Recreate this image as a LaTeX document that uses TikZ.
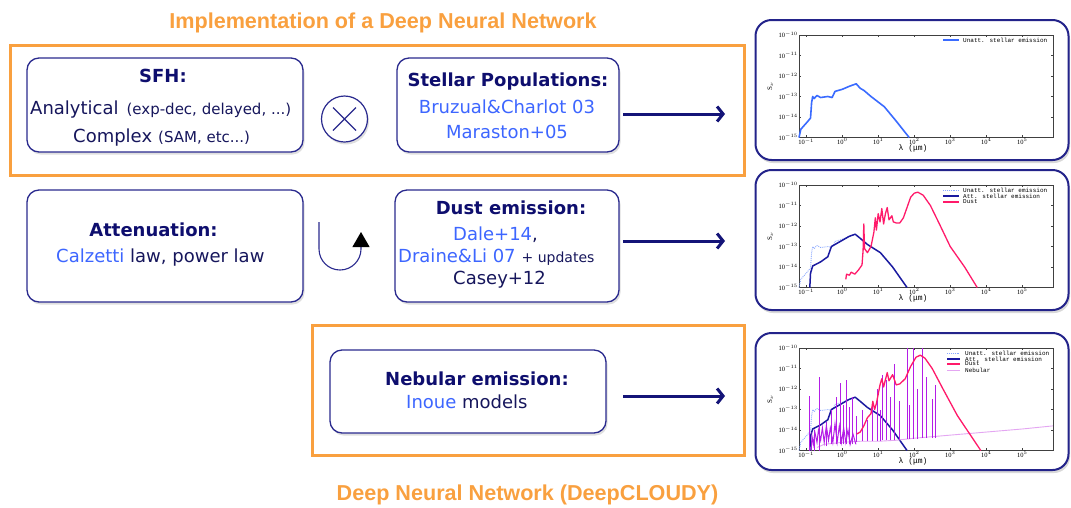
\documentclass[tikz,border=0pt]{standalone}
\usepackage{fontspec}
\setmainfont{DejaVu Sans}
\newfontfamily\arialbf{Liberation Sans}
\newfontfamily\plotmono{Liberation Mono}
\newfontfamily\plotserif{Liberation Serif}
\usetikzlibrary{arrows.meta,shadows}
\definecolor{orng}{HTML}{F9A03F}
\definecolor{boxnavy}{HTML}{2A2A8E}
\definecolor{plotnavy}{HTML}{23238A}
\definecolor{titlenavy}{HTML}{0E0E6E}
\definecolor{textnavy}{HTML}{16165C}
\definecolor{bluetxt}{HTML}{3D66FF}
\definecolor{arrnavy}{HTML}{141478}
\definecolor{unattc}{HTML}{3A6BFF}
\definecolor{unattl}{HTML}{8AA8FF}
\definecolor{attc}{HTML}{1A1AA0}
\definecolor{dustc}{HTML}{FF1A6A}
\definecolor{nebc}{HTML}{B41EE6}
\definecolor{nebl}{HTML}{E4A6F2}
\newcommand\tkfont{\fontsize{6.5}{7}\selectfont\plotserif}
\newcommand\lgfont{\fontsize{6}{6}\selectfont\plotmono}
\newcommand\myframe{%
  \draw[line width=0.4pt, black!75] (-1.2,-15) rectangle (5.85,-10);
  \foreach \L in {-1,...,5} {
    \draw[line width=0.3pt, black!75] (\L,-15) -- ++(0,0.12) (\L,-10) -- ++(0,-0.12);
    \node[font=\tkfont, below, inner sep=1pt] (xt\L) at (\L,-15) {10$^{\L}$};
  }
  \foreach \S in {10,...,15} {
    \draw[line width=0.3pt, black!75] (-1.2,-\S) -- ++(0.06,0) (5.85,-\S) -- ++(-0.06,0);
    \node[font=\tkfont, left, inner sep=1pt] (yt\S) at (-1.2,-\S) {10$^{-\S}$};
  }
  \node[font=\fontsize{8}{8}\selectfont\plotmono] (xl) at (1.97,-15.55) {λ (μm)};
  \node[font=\fontsize{7}{7}\selectfont\plotserif, rotate=90] (yl) at (-2.0,-12.5) {S$_\nu$};
}
\begin{document}
\begin{tikzpicture}[x=1pt,y=-1pt,
  box/.style={draw=boxnavy, line width=1.3pt, rounded corners=12pt, fill=white,
    drop shadow={shadow xshift=1.5pt,shadow yshift=-2.5pt,opacity=0.25}},
  plotbox/.style={draw=plotnavy, line width=2pt, rounded corners=16pt, fill=white,
    drop shadow={shadow xshift=1.5pt,shadow yshift=-3pt,opacity=0.3}},
  orangebox/.style={draw=orng, line width=3pt},
  ttl/.style={font=\fontsize{21.6}{24}\selectfont\arialbf\bfseries, text=orng, anchor=base, inner sep=0pt},
  hd/.style={font=\fontsize{18}{20}\selectfont\bfseries, text=titlenavy, anchor=base, inner sep=0pt},
  txt/.style={font=\fontsize{18}{20}\selectfont, text=textnavy, anchor=base, inner sep=0pt},
  arr/.style={draw=arrnavy, line width=3pt, -{Straight Barb[length=6pt,width=15pt]}},
  unatt/.style={draw=unattc, line width=1.6pt, line join=round},
  unattd/.style={draw=unattl, line width=0.9pt, densely dotted, line join=round},
  att/.style={draw=attc, line width=1.5pt, line join=round},
  dust/.style={draw=dustc, line width=1.3pt, line join=round},
  neb/.style={draw=nebc, line width=0.8pt},
  nebcont/.style={draw=nebl, line width=0.9pt},
]
\useasboundingbox (0,0) rectangle (1071,507);

% titles
\node[ttl] (title) at (383,28) {Implementation of a Deep Neural Network};
\node[ttl] (dnn) at (527.5,500) {Deep Neural Network (DeepCLOUDY)};

% orange frames
\draw[orangebox] (10,45) rectangle (744,175);
\draw[orangebox] (312,325) rectangle (744,455);

% main boxes
\node[box, minimum width=276pt, minimum height=94pt] (sfh) at (165,105) {};
\node[box, minimum width=222pt, minimum height=94pt] (pop) at (508,105) {};
\node[box, minimum width=276pt, minimum height=112pt] (att) at (165,246) {};
\node[box, minimum width=224pt, minimum height=112pt] (dust) at (507,246) {};
\node[box, minimum width=276pt, minimum height=83pt] (neb) at (468,391.5) {};

% SFH text
\node[hd] (sfhT) at (163,82) {SFH:};
\node[txt, anchor=base west] (sfhA) at (30,114) {Analytical\hspace{8pt}{\fontsize{15}{16}\selectfont (exp-dec, delayed, ...)}};
\node[txt, anchor=base west] (sfhC) at (73,142) {Complex\hspace{6pt}{\fontsize{15}{16}\selectfont (SAM, etc...)}};

% otimes
\node[circle, draw=boxnavy, line width=1.2pt, minimum size=46pt, fill=white,
  drop shadow={shadow xshift=1.5pt,shadow yshift=-2.5pt,opacity=0.25}] (otimes) at (344.5,119) {};
\draw[boxnavy, line width=1.2pt] ([shift={(-11.5pt,11.5pt)}]otimes.center) -- ([shift={(11.5pt,-11.5pt)}]otimes.center)
  ([shift={(-11.5pt,-11.5pt)}]otimes.center) -- ([shift={(11.5pt,11.5pt)}]otimes.center);

% Stellar populations text
\node[hd] (popT) at (508,86) {Stellar Populations:};
\node[txt, text=bluetxt] (popB) at (507,113) {Bruzual\&Charlot 03};
\node[txt, text=bluetxt] (popM) at (507,138) {Maraston+05};

% Attenuation text
\node[hd] (attT) at (153.5,236) {Attenuation:};
\node[txt, anchor=base west] (attL) at (56,262) {\textcolor{bluetxt}{Calzetti} law, power law};

% U-turn arrow
\coordinate (ua) at (319,222);
\coordinate (ub) at (361,232);
\draw[boxnavy, line width=1.1pt, -{Triangle[length=15pt,width=17pt,color=black]}]
  (ua) -- (319,249) arc[start angle=180, end angle=360, radius=21pt] -- (ub);

% Dust text
\node[hd] (dustT) at (511,214) {Dust emission:};
\node[txt, anchor=base west] (dustD) at (453,240) {\textcolor{bluetxt}{Dale+14},};
\node[txt, anchor=base west] (dustL) at (398,262) {\textcolor{bluetxt}{Draine\&Li 07}\hspace{6pt}{\fontsize{14}{16}\selectfont + updates}};
\node[txt, anchor=base west] (dustC) at (453,284) {Casey+12};

% Nebular text
\node[hd, anchor=base west] (nebT) at (385,385) {Nebular emission:};
\node[txt, anchor=base west] (nebI) at (406,408) {\textcolor{bluetxt}{Inoue} models};

% plot boxes
\node[plotbox, minimum width=313pt, minimum height=140pt] (p1) at (912,90) {};
\node[plotbox, minimum width=313pt, minimum height=140pt] (p2) at (912,240) {};
\node[plotbox, minimum width=313pt, minimum height=137pt] (p3) at (912,401.5) {};

% arrows
\coordinate (a1s) at (623,114); \coordinate (a1e) at (725,114);
\coordinate (a2s) at (623,241); \coordinate (a2e) at (725,241);
\coordinate (a3s) at (623,396); \coordinate (a3e) at (725,396);
\draw[arr] (a1s) -- (a1e);
\draw[arr] (a2s) -- (a2e);
\draw[arr] (a3s) -- (a3e);

% ---------- plot 1
\begin{scope}[shift={(842.2pt,170pt)}, x=36pt, y=20.5pt]
\myframe
\draw[unatt] (-1.2,-15) -- (-1.15,-14.6) -- (-1.05,-14.4) -- (-0.95,-14.2) -- (-0.88,-14.05) -- (-0.85,-13.3) -- (-0.82,-13.0) -- (-0.78,-13.1) -- (-0.7,-12.95) -- (-0.6,-13.05) -- (-0.4,-13.0) -- (-0.28,-13.05) -- (-0.2,-12.75) -- (0,-12.65) -- (0.2,-12.5) -- (0.39,-12.38) -- (0.5,-12.6) -- (0.6,-12.7) -- (0.8,-13.0) -- (1.17,-13.5) -- (1.5,-14.2) -- (1.86,-15);
\end{scope}
\draw[unatt] (943,40) -- (959,40);
\node[font=\lgfont, anchor=west, inner sep=0pt] (lg1) at (963,40) {Unatt. stellar emission};

% ---------- plot 2
\begin{scope}[shift={(842.2pt,20pt)}, x=36pt, y=20.5pt]
\myframe
\draw[unattd] (-1.2,-15) -- (-1.15,-14.6) -- (-1.05,-14.4) -- (-0.95,-14.2) -- (-0.88,-14.05) -- (-0.85,-13.3) -- (-0.82,-13.0) -- (-0.78,-13.1) -- (-0.7,-12.95) -- (-0.6,-13.05) -- (-0.4,-13.0) -- (-0.28,-13.05) -- (-0.2,-12.75) -- (0,-12.65) -- (0.2,-12.5) -- (0.39,-12.38);
\draw[att] (-0.9,-15) -- (-0.88,-14.3) -- (-0.82,-13.95) -- (-0.6,-13.75) -- (-0.4,-13.5) -- (-0.3,-13.0) -- (-0.05,-12.75) -- (0.2,-12.5) -- (0.36,-12.4) -- (0.5,-12.6) -- (0.7,-12.9) -- (1.06,-13.3) -- (1.4,-14.0) -- (1.8,-15);
\draw[dust] (0.1,-14.6) -- (0.12,-14.35) -- (0.2,-14.4) -- (0.25,-14.25) -- (0.35,-14.35) -- (0.45,-14.15) -- (0.55,-13.9) -- (0.58,-13.2) -- (0.6,-11.9) -- (0.62,-13.1) -- (0.7,-13.3) -- (0.8,-13.0) -- (0.88,-12.3) -- (0.92,-11.6) -- (0.95,-12.2) -- (1.0,-11.4) -- (1.05,-11.8) -- (1.1,-11.15) -- (1.15,-11.9) -- (1.2,-11.4) -- (1.25,-11.1) -- (1.3,-11.7) -- (1.38,-11.5) -- (1.42,-11.8) -- (1.5,-11.85) -- (1.6,-11.85) -- (1.7,-11.6) -- (1.8,-11.1) -- (1.9,-10.6) -- (2.0,-10.4) -- (2.1,-10.35) -- (2.25,-10.5) -- (2.45,-11.0) -- (2.7,-11.9) -- (3.0,-13.0) -- (3.4,-14.0) -- (3.75,-15);
\end{scope}
\draw[unattd] (943,190) -- (959,190);
\draw[att] (943,196) -- (959,196);
\draw[dust] (943,202) -- (959,202);
\node[font=\lgfont, anchor=west, inner sep=0pt] (lg2a) at (963,190) {Unatt. stellar emission};
\node[font=\lgfont, anchor=west, inner sep=0pt] (lg2b) at (963,196) {Att. stellar emission};
\node[font=\lgfont, anchor=west, inner sep=0pt] (lg2c) at (963,202) {Dust};

% ---------- plot 3
\begin{scope}[shift={(842.2pt,-143pt)}, x=36pt, y=20.5pt]
\myframe
\draw[unattd] (-1.2,-15) -- (-1.15,-14.6) -- (-1.05,-14.4) -- (-0.95,-14.2) -- (-0.88,-14.05) -- (-0.85,-13.3) -- (-0.82,-13.0) -- (-0.78,-13.1) -- (-0.7,-12.95) -- (-0.6,-13.05) -- (-0.4,-13.0) -- (-0.28,-13.05) -- (-0.2,-12.75) -- (0,-12.65) -- (0.2,-12.5) -- (0.39,-12.38);
\draw[att] (-0.9,-15) -- (-0.88,-14.3) -- (-0.82,-13.95) -- (-0.6,-13.75) -- (-0.4,-13.5) -- (-0.3,-13.0) -- (-0.05,-12.75) -- (0.2,-12.5) -- (0.36,-12.4) -- (0.5,-12.6) -- (0.7,-12.9) -- (1.06,-13.3) -- (1.4,-14.0) -- (1.8,-15);
\draw[nebcont] (-0.7,-14.85) -- (-0.5,-14.7) -- (0,-14.6) -- (0.5,-14.55) -- (1.0,-14.55) -- (1.5,-14.5) -- (2.0,-14.4) -- (3,-14.25) -- (4,-14.1) -- (5,-13.95) -- (5.85,-13.8);
\draw[neb, line width=1pt] (-0.86,-15) -- (-0.84,-14.3) -- (-0.8,-14.7) -- (-0.76,-14.1) -- (-0.7,-14.6) -- (-0.66,-14.0) -- (-0.6,-14.5) -- (-0.55,-13.9) -- (-0.5,-14.6) -- (-0.44,-13.8) -- (-0.38,-14.5) -- (-0.33,-13.9) -- (-0.26,-14.6) -- (-0.2,-13.7) -- (-0.14,-14.6) -- (-0.08,-13.8) -- (-0.02,-14.6) -- (0.04,-13.9) -- (0.1,-14.6) -- (0.16,-14.0) -- (0.22,-14.7) -- (0.3,-14.2) -- (0.38,-14.7);
\foreach \a/\b/\c in {-0.92/-12.35/-15, -0.62/-11.4/-15, -0.78/-14.0/-15, -0.45/-13.6/-14.8, -0.3/-13.0/-14.7, -0.15/-12.4/-14.7, -0.06/-11.7/-14.7, 0.02/-12.8/-14.7, 0.13/-11.55/-14.7, 0.2/-12.9/-14.7, 0.27/-12.4/-14.7, 0.4/-13.3/-14.6, 0.55/-13.0/-14.55, 0.7/-13.5/-14.55, 0.85/-12.6/-14.55, 0.98/-12.0/-14.55, 1.05/-13.0/-14.55, 1.13/-11.3/-14.5, 1.24/-11.55/-14.5, 1.35/-12.4/-14.5, 1.46/-10.8/-14.5, 1.6/-12.6/-14.5, 1.8/-10.0/-14.45, 1.88/-12.8/-14.45, 1.97/-10.0/-14.45, 2.1/-12.0/-14.45, 2.24/-10.0/-14.4, 2.35/-11.4/-14.4, 2.5/-12.5/-14.4, 2.6/-11.8/-14.4}
  {\draw[neb] (\a,\c) -- (\a,\b);}
\draw[dust] (0.4,-14.2) -- (0.5,-14.1) -- (0.6,-13.8) -- (0.7,-13.4) -- (0.8,-13.2) -- (0.85,-12.6) -- (0.9,-13.0) -- (0.95,-12.7) -- (1.05,-11.8) -- (1.1,-11.5) -- (1.15,-11.9) -- (1.25,-11.2) -- (1.3,-11.6) -- (1.4,-11.3) -- (1.5,-11.8) -- (1.6,-11.75) -- (1.75,-11.5) -- (1.9,-10.9) -- (2.05,-10.45) -- (2.17,-10.35) -- (2.3,-10.5) -- (2.5,-11.0) -- (2.8,-12.0) -- (3.2,-13.3) -- (3.85,-15);
\end{scope}
\draw[unattd] (947,353) -- (960,353);
\draw[att] (947,359) -- (960,359);
\draw[dust] (947,364) -- (960,364);
\draw[nebcont] (947,370) -- (960,370);
\node[font=\lgfont, anchor=west, inner sep=0pt] (lg3a) at (965,353) {Unatt. stellar emission};
\node[font=\lgfont, anchor=west, inner sep=0pt] (lg3b) at (965,359) {Att. stellar emission};
\node[font=\lgfont, anchor=west, inner sep=0pt] (lg3c) at (965,364) {Dust};
\node[font=\lgfont, anchor=west, inner sep=0pt] (lg3d) at (965,370) {Nebular};
\end{tikzpicture}
\end{document}
